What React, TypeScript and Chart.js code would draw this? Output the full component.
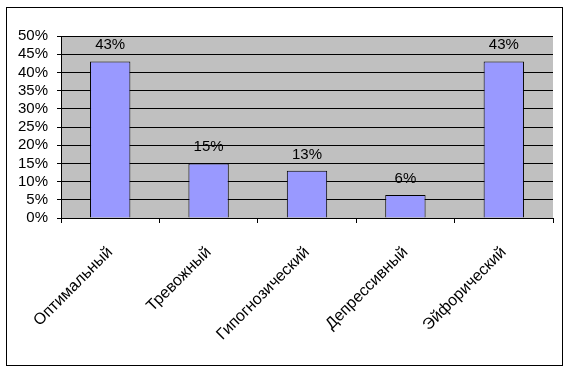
import React, { useEffect, useRef } from "react";
import { Chart, registerables } from "chart.js";

Chart.register(...registerables);

const categories = ["Оптимальный", "Тревожный", "Гипогнозический", "Депрессивный", "Эйфорический"];
const values = [43, 15, 13, 6.3, 43];
const valueLabels = ["43%", "15%", "13%", "6%", "43%"];
const yTicks = [0, 5, 10, 15, 20, 25, 30, 35, 40, 45, 50];

const FONT = "'Liberation Sans', Arial, sans-serif";

const framePlugin = {
  id: "frame",
  beforeDraw(chart: any) {
    const { ctx, chartArea } = chart;
    ctx.save();
    ctx.fillStyle = "#ffffff";
    ctx.fillRect(0, 0, chart.width, chart.height);
    ctx.strokeStyle = "#000000";
    ctx.lineWidth = 1;
    ctx.strokeRect(6.5, 7.5, 556, 358);
    ctx.fillStyle = "#C0C0C0";
    ctx.fillRect(chartArea.left, chartArea.top, chartArea.right - chartArea.left, chartArea.bottom - chartArea.top);
    ctx.restore();
  },
  afterDatasetsDraw(chart: any) {
    const { ctx } = chart;
    const meta = chart.getDatasetMeta(0);
    ctx.save();
    ctx.fillStyle = "#000000";
    ctx.font = `15px ${FONT}`;
    ctx.textAlign = "center";
    ctx.textBaseline = "alphabetic";
    meta.data.forEach((bar: any, i: number) => {
      ctx.fillText(valueLabels[i], bar.x, bar.y - 12);
    });
    ctx.restore();
  },
};

export default function App() {
  const ref = useRef<HTMLCanvasElement | null>(null);
  useEffect(() => {
    document.body.style.margin = "0";
    const chart = new Chart(ref.current!, {
      type: "bar",
      data: {
        labels: categories,
        datasets: [
          {
            data: values,
            backgroundColor: "#9999FF",
            borderColor: "#000000",
            borderWidth: 1,
            barPercentage: 0.41,
            categoryPercentage: 1,
          },
        ],
      },
      options: {
        animation: false,
        responsive: false,
        devicePixelRatio: 1,
        layout: { padding: { left: 0, top: 36, right: 17, bottom: 0 } },
        plugins: { legend: { display: false }, tooltip: { enabled: false } },
        scales: {
          x: {
            afterFit(scale: any) {
              scale.height = 156;
            },
            grid: {
              display: true,
              drawOnChartArea: false,
              drawTicks: true,
              tickLength: 5,
              color: "#000000",
              offset: true,
            },
            border: { display: true, color: "#000000", width: 1 },
            ticks: {
              autoSkip: false,
              minRotation: 45,
              maxRotation: 45,
              color: "#000000",
              font: { family: FONT, size: 16 },
              padding: 20,
            },
          },
          y: {
            min: 0,
            max: 50,
            afterFit(scale: any) {
              scale.width = 61;
            },
            afterBuildTicks(scale: any) {
              scale.ticks = yTicks.map((v) => ({ value: v }));
            },
            grid: {
              color: "#000000",
              tickLength: 4,
              drawTicks: true,
            },
            border: { display: true, color: "#000000", width: 1 },
            ticks: {
              autoSkip: false,
              stepSize: 5,
              color: "#000000",
              font: { family: FONT, size: 15 },
              padding: 9,
              callback: (v: any) => `${v}%`,
            },
          },
        },
      },
      plugins: [framePlugin],
    });
    return () => chart.destroy();
  }, []);
  return (
    <div style={{ width: 570, height: 374 }}>
      <canvas ref={ref} width={570} height={374} style={{ display: "block" }} />
    </div>
  );
}
